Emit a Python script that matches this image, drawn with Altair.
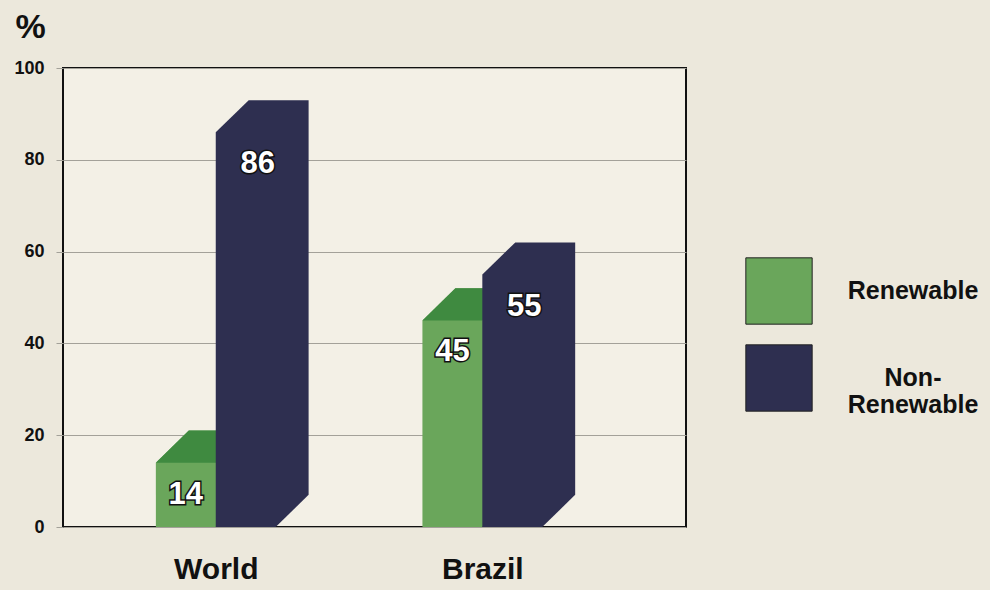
import altair as alt
import pandas as pd

# ---- data ----
categories = ["World", "Brazil"]
series = ["Renewable", "Non-Renewable"]
renewable = [14, 45]
non_renewable = [86, 55]
y_ticks = [0, 20, 40, 60, 80, 100]

# ---- layout / style constants (not data) ----
FIRST = 1.55   # x-unit start of first group
STEP = 4.45    # distance between groups
BW = 1.0       # front face width
DX = 0.55      # 3D depth in x units
DY = 7.0       # 3D depth in y units
FONT = "Liberation Sans Narrow, Liberation Sans, Arial"
GREEN = "#6aa65b"
GREEN_TOP = "#3f8a40"
NAVY = "#2e2f50"

bars = []
for gi, cat in enumerate(categories):
    for si, (s, vals) in enumerate(zip(series, [renewable, non_renewable])):
        x0 = FIRST + gi * STEP + si * BW
        bars.append(dict(cat=cat, series=s, value=vals[gi], x0=x0, bar=f"{cat}-{s}"))

hex_rows, top_rows, lab_rows = [], [], []
for b in bars:
    x0, v = b["x0"], b["value"]
    for xv, lo, hi in [(x0, 0, v), (x0 + DX, 0, v + DY), (x0 + BW, 0, v + DY), (x0 + BW + DX, DY, v + DY)]:
        hex_rows.append(dict(bar=b["bar"], series=b["series"], xv=xv, lo=lo, hi=hi))
    if b["series"] == "Renewable":
        for xv, lo, hi in [(x0, v, v), (x0 + DX, v, v + DY), (x0 + BW, v, v + DY), (x0 + BW + DX, v + DY, v + DY)]:
            top_rows.append(dict(bar=b["bar"], xv=xv, lo=lo, hi=hi))
    shift = 0.2 if b["series"] == "Non-Renewable" else 0.0
    lab_rows.append(dict(xl=x0 + BW / 2 + shift, value=v, text=str(v)))

hex_df = pd.DataFrame(hex_rows)
top_df = pd.DataFrame(top_rows)
lab_df = pd.DataFrame(lab_rows)

label_pos = [FIRST + gi * STEP + BW for gi in range(len(categories))]
label_expr = " : ".join(
    [f"abs(datum.value - {p}) < 0.01 ? '{c}'" for p, c in zip(label_pos, categories)]
) + " : ''"

x_scale = alt.Scale(domain=[0, 10.4], nice=False, zero=False)
y_scale = alt.Scale(domain=[0, 100], nice=False)

x_axis = alt.Axis(
    values=label_pos, labelExpr=label_expr, domain=False, ticks=False, grid=False,
    labelFont=FONT, labelFontSize=30, labelFontWeight="bold", labelColor="#111",
    labelPadding=27, labelFlush=False, labelOverlap=False, title=None,
)
y_axis = alt.Axis(
    values=y_ticks, grid=True, gridColor="#a3a199", gridWidth=1,
    tickColor="#a3a199", tickSize=7, domain=False,
    labelFont=FONT, labelFontSize=18, labelFontWeight="bold", labelColor="#111",
    labelPadding=12, title="%", titleAngle=0, titleX=-33, titleY=-31,
    titleFont=FONT, titleFontSize=34, titleFontWeight="bold", titleColor="#111",
    titleAlign="center", titleBaseline="alphabetic",
)

color = alt.Color(
    "series:N",
    scale=alt.Scale(domain=series, range=[GREEN, NAVY]),
    legend=alt.Legend(
        orient="none", legendX=682, legendY=189, title=None, padding=0,
        symbolType="square", symbolSize=4400, symbolStrokeColor="#222",
        symbolStrokeWidth=1, symbolOpacity=1, rowPadding=15,
        labelFont="Liberation Sans", labelFontSize=25, labelFontWeight="bold",
        labelColor="#111", labelAlign="center", labelOffset=100, labelLimit=300,
        labelExpr="datum.label == 'Non-Renewable' ? ['Non-', 'Renewable'] : datum.label",
    ),
)

base_hex = alt.Chart(hex_df)
green_hex = base_hex.transform_filter(alt.datum.series == "Renewable").mark_area(opacity=1).encode(
    x=alt.X("xv:Q", scale=x_scale, axis=x_axis),
    y=alt.Y("hi:Q", scale=y_scale, axis=y_axis),
    y2="lo:Q",
    detail="bar:N",
    color=color,
)
green_top = alt.Chart(top_df).mark_area(opacity=1, color=GREEN_TOP).encode(
    x="xv:Q", y="hi:Q", y2="lo:Q", detail="bar:N",
)
navy_hex = base_hex.transform_filter(alt.datum.series == "Non-Renewable").mark_area(opacity=1).encode(
    x="xv:Q", y="hi:Q", y2="lo:Q", detail="bar:N", color=color,
)

text_outline = alt.Chart(lab_df).mark_text(
    font=FONT, fontSize=31, fontWeight="bold", baseline="middle", dy=32,
    fill="white", stroke="#111", strokeWidth=3,
).encode(x="xl:Q", y="value:Q", text="text:N")
text_fill = alt.Chart(lab_df).mark_text(
    font=FONT, fontSize=31, fontWeight="bold", baseline="middle", dy=32, fill="white",
).encode(x="xl:Q", y="value:Q", text="text:N")

chart = alt.layer(green_hex, green_top, navy_hex, text_outline, text_fill).properties(
    width=623, height=459,
    autosize=alt.AutoSizeParams(type="none"),
    padding={"left": 63, "top": 68, "right": 304, "bottom": 63},
    background="#ece8dc",
).configure_view(stroke="#111", strokeWidth=2, fill="#f3f0e6")

chart.save("out.html", embed_options={"renderer": "svg", "actions": False})
